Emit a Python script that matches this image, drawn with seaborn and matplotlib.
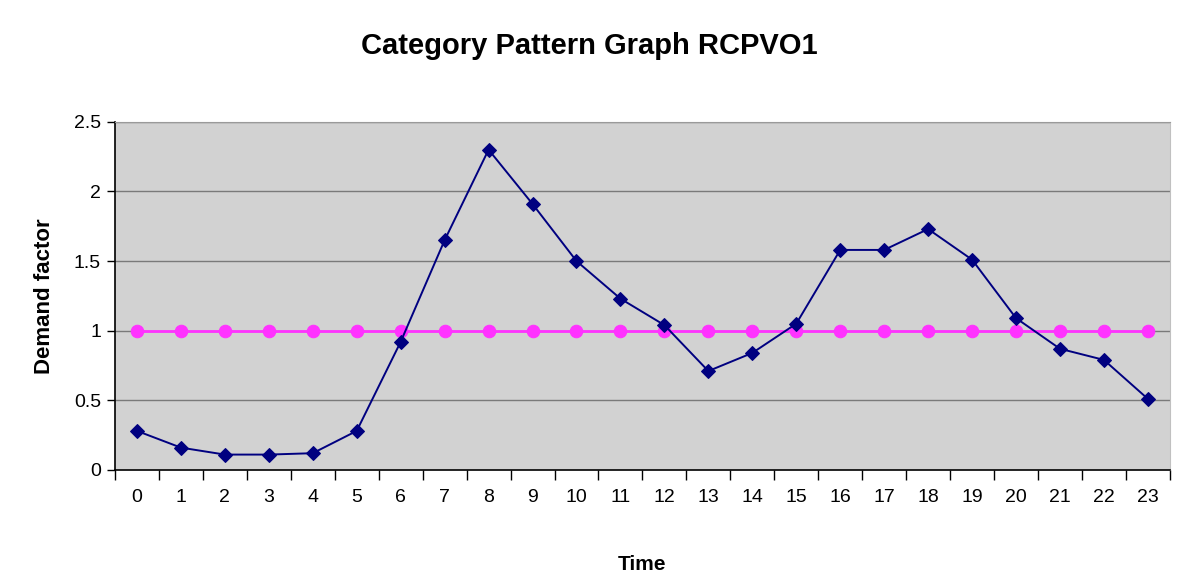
import matplotlib
matplotlib.use("Agg")
from matplotlib import pyplot as plt
import pandas as pd
import seaborn as sns

# ----------------- data
hours = list(range(24))
demand = [0.28, 0.16, 0.11, 0.11, 0.12, 0.28, 0.92, 1.65, 2.30, 1.91,
          1.50, 1.23, 1.04, 0.71, 0.84, 1.05, 1.58, 1.58, 1.73, 1.51,
          1.09, 0.87, 0.79, 0.51]
baseline = [1.0] * 24

df = pd.DataFrame({'Time': hours, 'Demand': demand, 'Base': baseline})

# ----------------- style
sns.set_style("white")
plt.rcParams['font.family'] = ['Liberation Sans Narrow', 'Liberation Sans', 'DejaVu Sans']
plt.rcParams['text.color'] = 'black'
plt.rcParams['axes.labelcolor'] = 'black'
plt.rcParams['xtick.color'] = 'black'
plt.rcParams['ytick.color'] = 'black'

f = plt.figure(figsize=(11.78, 5.83), dpi=100)
ax = f.add_axes([0.0976, 0.194, 0.8955, 0.597])
ax.set_facecolor('#d2d2d2')

# gridlines
for v in [0.5, 1.0, 1.5, 2.0, 2.5]:
    ax.axhline(v, color='#7a7a7a', lw=1, zorder=1)

sns.lineplot(data=df, x='Time', y='Base', ax=ax, color='#ff33ff', lw=2,
             marker='o', markersize=9, markeredgecolor='#ff33ff', zorder=3)
sns.lineplot(data=df, x='Time', y='Demand', ax=ax, color='#000080', lw=1.4,
             marker='D', markersize=7, markeredgecolor='#000080', zorder=4)

ax.set_xlim(-0.5, 23.5)
ax.set_ylim(0, 2.5)

ax.set_xticks(hours)
ax.set_xticklabels([str(h) for h in hours], fontsize=14)
ax.set_xticks([h - 0.5 for h in hours] + [23.5], minor=True)
ax.tick_params(axis='x', which='major', bottom=True, length=0, pad=14)
ax.tick_params(axis='x', which='minor', bottom=True, length=7, width=1,
               color='black', direction='out')

ax.set_yticks([0, 0.5, 1, 1.5, 2, 2.5])
ax.set_yticklabels(['0', '0.5', '1', '1.5', '2', '2.5'], fontsize=14)
ax.tick_params(axis='y', left=True, length=6, width=1, color='black',
               direction='out', pad=4)

for side in ['left', 'bottom']:
    ax.spines[side].set_color('black')
    ax.spines[side].set_linewidth(1.2)
ax.spines['top'].set_color('#9a9a9a')
ax.spines['right'].set_color('#c0c0c0')

ax.set_xlabel('Time', fontsize=15, fontweight='bold', labelpad=35)
ax.set_ylabel('Demand factor', fontsize=16, fontweight='bold', labelpad=14)

f.suptitle('Category Pattern Graph RCPVO1', fontsize=21, fontweight='bold', y=0.945)

f.savefig('out.png', dpi=100, facecolor='white')
